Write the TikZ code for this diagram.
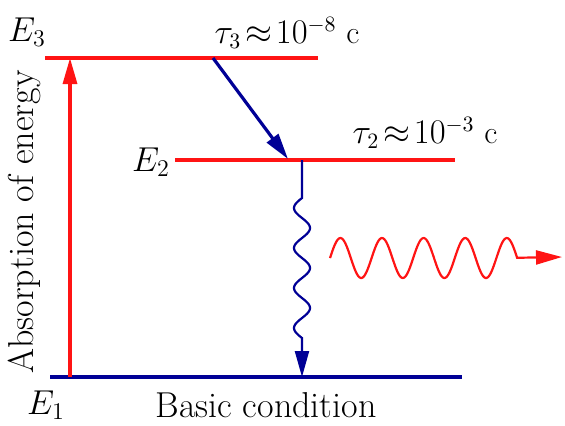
\documentclass[tikz,border=0pt]{standalone}
\usepackage{amsmath,amssymb}
\usetikzlibrary{arrows.meta,positioning,calc}
\definecolor{navy}{RGB}{0,0,150}
\definecolor{laser}{RGB}{255,20,20}

\begin{document}
\begin{tikzpicture}[x=0.5pt,y=-0.5pt,>={Triangle[length=13pt,width=7pt]}, every node/.style={font=\fontsize{17}{19}\selectfont}]
\tikzstyle{level}=[line width=2pt]
\tikzstyle{trans}=[line width=1.6pt,->]
\tikzstyle{wave}=[line width=1.1pt]
\tikzstyle{life}=[font=\fontsize{16}{18}\selectfont]
\useasboundingbox (0,0) rectangle (565,425);
% energy levels
\coordinate (e3l) at (45,58);
\coordinate (e3r) at (318,58);
\coordinate (e2l) at (175,160);
\coordinate (e2r) at (455,160);
\coordinate (e1l) at (50,377);
\coordinate (e1r) at (462,377);
\draw[level,laser] (e3l) -- (e3r);
\draw[level,laser] (e2l) -- (e2r);
\draw[level,navy] (e1l) -- (e1r);
% labels
\node (lE3) at (27,32) {$E_3$};
\node (lE2) at (151,162) {$E_2$};
\node (lE1) at (46,405) {$E_1$};
\node[life] (tau3) at (287,33) {$\tau_3\!\approx\! 10^{-8}$ c};
\node[life] (tau2) at (425,133) {$\tau_2\!\approx\! 10^{-3}$ c};
\node[anchor=base,font=\fontsize{18}{20}\selectfont] (basic) at (266,417) {Basic condition};
\node[rotate=90,font=\fontsize{18}{20}\selectfont] (absorb) at (24,222) {Absorption of energy};
% transitions
\coordinate (pumpfrom) at (70,377);
\coordinate (pumpto) at (70,58);
\draw[trans,laser] (pumpfrom) -- (pumpto);
\coordinate (relaxfrom) at (213,58);
\coordinate (relaxto) at (288,159);
\draw[trans,navy] (relaxfrom) -- (relaxto);
\coordinate (emitfrom) at (302,160);
\coordinate (emitto) at (302,377);
\draw[wave,navy,->] (emitfrom) -- (302,198)
  -- plot[domain=0:3.5,samples=120] ({302-8*sin(360*\x)},{198+40*\x})
  -- (emitto);
% photon
\coordinate (photonto) at (562,257);
\draw[wave,laser,->] plot[domain=0:4.5,samples=160] ({330+41.6*\x},{258-20*sin(360*\x)})
  -- (photonto);
\end{tikzpicture}
\end{document}
